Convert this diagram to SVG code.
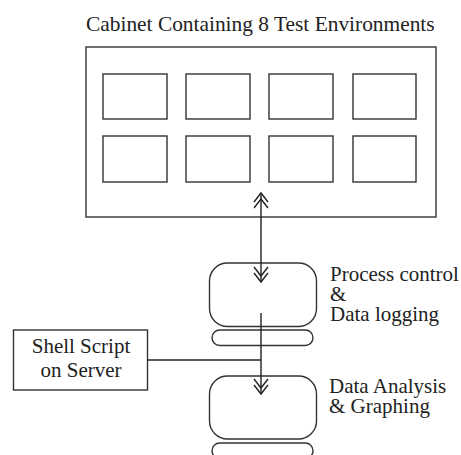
<svg xmlns="http://www.w3.org/2000/svg" width="461" height="455" viewBox="0 0 461 455">
<style>
.s{fill:#fff;stroke:#333;stroke-width:1.4}
.c{fill:none;stroke:#222;stroke-width:1.4}
.t{font-family:'Liberation Serif','Times New Roman',Times,serif;font-size:21px;fill:#222}
</style>
<defs>
<marker id="dc" markerUnits="userSpaceOnUse" markerWidth="20" markerHeight="20" viewBox="-18 -9 20 18" refX="0" refY="0" orient="auto-start-reverse">
<path d="M-9,-7 L0,0 L-9,7 M-15,-7 L-6,0 L-15,7" fill="none" stroke="#222" stroke-width="1.4"/>
</marker>
</defs>
<rect width="461" height="455" fill="#fff"/>
<g id="cabinet">
<text class="t" x="86" y="31" style="font-size:21.4px">Cabinet Containing 8 Test Environments</text>
<rect class="s" x="86" y="47" width="350" height="170"/>
<rect class="s" x="103" y="74" width="64" height="45"/>
<rect class="s" x="186" y="74" width="64" height="45"/>
<rect class="s" x="269" y="74" width="64" height="45"/>
<rect class="s" x="353" y="74" width="63" height="45"/>
<rect class="s" x="103" y="136" width="64" height="46"/>
<rect class="s" x="186" y="136" width="64" height="46"/>
<rect class="s" x="269" y="136" width="64" height="46"/>
<rect class="s" x="353" y="136" width="63" height="46"/>
</g>
<g id="process">
<rect class="s" x="209.5" y="263" width="107" height="63.5" rx="18"/>
<rect class="s" x="212" y="330" width="101" height="15.5" rx="7.75"/>
<text class="t" x="330" y="281">Process control</text>
<text class="t" x="330" y="301">&amp;</text>
<text class="t" x="330" y="321">Data logging</text>
</g>
<g id="shell">
<rect class="s" x="13.5" y="330" width="134" height="60"/>
<text class="t" x="81" y="353" text-anchor="middle">Shell Script</text>
<text class="t" x="81" y="377" text-anchor="middle">on Server</text>
</g>
<g id="analysis">
<rect class="s" x="209.5" y="376" width="107" height="63" rx="18"/>
<rect class="s" x="212" y="443" width="101" height="15.5" rx="7.75"/>
<text class="t" x="329" y="393">Data Analysis</text>
<text class="t" x="329" y="413">&amp; Graphing</text>
</g>
<g id="connectors">
<line class="c" x1="261" y1="193" x2="261" y2="282" marker-start="url(#dc)" marker-end="url(#dc)"/>
<line class="c" x1="261" y1="313" x2="261" y2="394" marker-end="url(#dc)"/>
<line class="c" x1="147.5" y1="360" x2="261" y2="360"/>
</g>
</svg>
